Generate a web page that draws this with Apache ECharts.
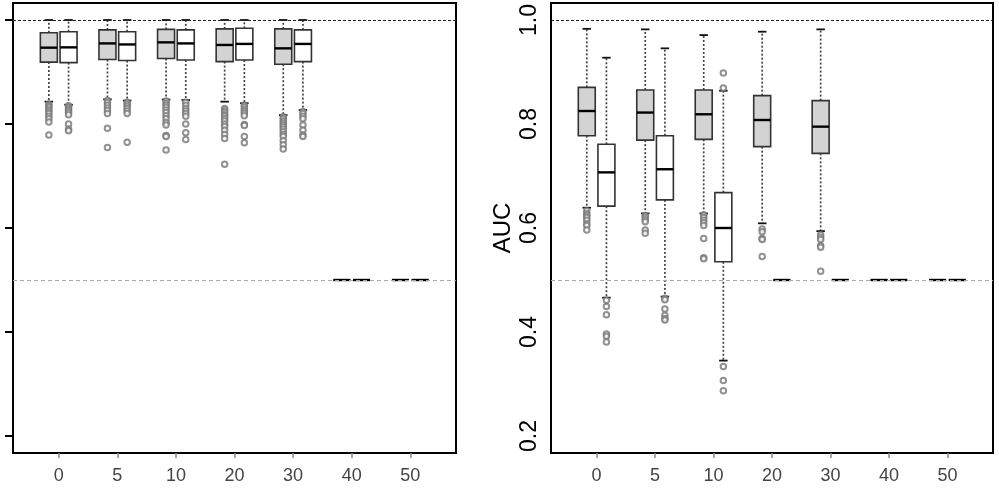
<!DOCTYPE html>
<html>
<head>
<meta charset="utf-8">
<script src="https://cdn.jsdelivr.net/npm/echarts@6/dist/echarts.min.js"></script>
<style>html,body{margin:0;padding:0;background:#fff;}#c{width:999px;height:492px;}</style>
</head>
<body>
<div id="c"></div>
<script>
// ---- data ----
const categories = ['0', '5', '10', '20', '30', '40', '50'];
const yTicks = [0.2, 0.4, 0.6, 0.8, 1.0];
const refLines = [1.0, 0.5];

// [min, Q1, median, Q3, max] per category
const leftGrayStats = [
  [0.843, 0.919, 0.9468, 0.9756, 1.0],
  [0.8475, 0.924, 0.955, 0.981, 1.0],
  [0.847, 0.926, 0.957, 0.982, 1.0],
  [0.843, 0.920, 0.952, 0.983, 1.0],
  [0.817, 0.915, 0.9455, 0.983, 1.0],
  [0.5, 0.5, 0.5, 0.5, 0.5],
  [0.5, 0.5, 0.5, 0.5, 0.5]
];
const leftWhiteStats = [
  [0.837, 0.918, 0.9474, 0.9775, 1.0],
  [0.845, 0.922, 0.953, 0.9775, 1.0],
  [0.846, 0.923, 0.955, 0.981, 1.0],
  [0.840, 0.923, 0.954, 0.984, 1.0],
  [0.827, 0.920, 0.954, 0.981, 1.0],
  [0.5, 0.5, 0.5, 0.5, 0.5],
  [0.5, 0.5, 0.5, 0.5, 0.5]
];
const leftGrayOutliers = [
  [0.838, 0.835, 0.832, 0.828, 0.824, 0.82, 0.815, 0.81, 0.804, 0.779],
  [0.845, 0.841, 0.836, 0.831, 0.826, 0.82, 0.792, 0.755],
  [0.844, 0.84, 0.836, 0.832, 0.827, 0.822, 0.816, 0.81, 0.803, 0.798, 0.778, 0.776, 0.75],
  [0.83, 0.826, 0.822, 0.818, 0.815, 0.81, 0.806, 0.80, 0.795, 0.788, 0.78, 0.772, 0.7225],
  [0.814, 0.81, 0.806, 0.802, 0.798, 0.794, 0.79, 0.785, 0.78, 0.776, 0.768, 0.76, 0.752],
  [],
  []
];
const leftWhiteOutliers = [
  [0.835, 0.832, 0.829, 0.826, 0.822, 0.818, 0.80, 0.79, 0.787],
  [0.842, 0.838, 0.834, 0.83, 0.825, 0.82, 0.765],
  [0.842, 0.836, 0.83, 0.825, 0.82, 0.815, 0.80, 0.783, 0.77],
  [0.836, 0.832, 0.828, 0.824, 0.82, 0.816, 0.799, 0.797, 0.776, 0.764],
  [0.824, 0.82, 0.815, 0.81, 0.798, 0.788, 0.779, 0.776],
  [],
  []
];

const rightGrayStats = [
  [0.639, 0.7775, 0.825, 0.8705, 0.983],
  [0.628, 0.769, 0.822, 0.8655, 0.982],
  [0.628, 0.7705, 0.8187, 0.8655, 0.971],
  [0.609, 0.7564, 0.8077, 0.8545, 0.9775],
  [0.594, 0.7436, 0.7949, 0.845, 0.982],
  [0.5, 0.5, 0.5, 0.5, 0.5],
  [0.5, 0.5, 0.5, 0.5, 0.5]
];
const rightWhiteStats = [
  [0.466, 0.642, 0.707, 0.761, 0.9275],
  [0.468, 0.654, 0.713, 0.7775, 0.9455],
  [0.345, 0.535, 0.600, 0.668, 0.864],
  [0.5, 0.5, 0.5, 0.5, 0.5],
  [0.5, 0.5, 0.5, 0.5, 0.5],
  [0.5, 0.5, 0.5, 0.5, 0.5],
  [0.5, 0.5, 0.5, 0.5, 0.5]
];
const rightGrayOutliers = [
  [0.633, 0.628, 0.624, 0.62, 0.615, 0.608, 0.605, 0.596],
  [0.624, 0.62, 0.616, 0.612, 0.596, 0.59],
  [0.625, 0.62, 0.615, 0.61, 0.605, 0.58, 0.543, 0.541],
  [0.598, 0.593, 0.58, 0.578, 0.545],
  [0.587, 0.582, 0.578, 0.566, 0.563, 0.517],
  [],
  []
];
const rightWhiteOutliers = [
  [0.461, 0.449, 0.433, 0.396, 0.392, 0.381],
  [0.465, 0.462, 0.444, 0.432, 0.426, 0.423],
  [0.898, 0.869, 0.3335, 0.3065, 0.287],
  [],
  [],
  [],
  []
];

// ---- styling constants ----
const BOX_OFF = 0.168;
const BOX_W = 0.29;
const GRAY_FILL = '#d3d3d3';
const FONT = 'Liberation Sans, Arial, sans-serif';

function boxData(stats) {
  return stats.map((s, i) => [i].concat(s));
}
function outlierData(outs, off) {
  const pts = [];
  outs.forEach((arr, i) => arr.forEach(v => pts.push([i + off, v])));
  return pts;
}
function makeRender(off, fill) {
  return function (params, api) {
    const gx = api.value(0) + off;
    const c = v => api.coord([gx, v]);
    const w = api.size([BOX_W, 0])[0];
    const hw = w / 2;
    const cx = c(api.value(3))[0];
    const yMin = c(api.value(1))[1], yQ1 = c(api.value(2))[1], yMd = c(api.value(3))[1],
          yQ3 = c(api.value(4))[1], yMax = c(api.value(5))[1];
    const dash = { stroke: '#444', lineWidth: 1.7, lineDash: [2, 2] };
    const cap = { stroke: '#111', lineWidth: 1.8 };
    return {
      type: 'group',
      children: [
        { type: 'line', shape: { x1: cx, y1: yQ3, x2: cx, y2: yMax }, style: dash },
        { type: 'line', shape: { x1: cx, y1: yQ1, x2: cx, y2: yMin }, style: dash },
        { type: 'line', shape: { x1: cx - hw / 2, y1: yMax, x2: cx + hw / 2, y2: yMax }, style: cap },
        { type: 'line', shape: { x1: cx - hw / 2, y1: yMin, x2: cx + hw / 2, y2: yMin }, style: cap },
        { type: 'rect', shape: { x: cx - hw, y: yQ3, width: w, height: yQ1 - yQ3 },
          style: { fill: fill, stroke: '#333', lineWidth: 1.6 } },
        { type: 'line', shape: { x1: cx - hw, y1: yMd, x2: cx + hw, y2: yMd },
          style: { stroke: '#000', lineWidth: 2.4 } }
      ]
    };
  };
}

const markLine = {
  silent: true,
  symbol: 'none',
  label: { show: false },
  data: [
    { yAxis: refLines[0], lineStyle: { color: '#222', type: [3, 2], width: 1.2 } },
    { yAxis: refLines[1], lineStyle: { color: '#aaa', type: [4, 3], width: 1.2 } }
  ]
};

function xAxisDef(gi) {
  return {
    type: 'value', gridIndex: gi, min: -0.78, max: 6.78,
    axisLine: { show: false, onZero: false },
    splitLine: { show: false },
    axisTick: { show: true, customValues: [0, 1, 2, 3, 4, 5, 6], length: 5, lineStyle: { color: '#888', width: 1.5 } },
    axisLabel: {
      show: true, customValues: [0, 1, 2, 3, 4, 5, 6],
      formatter: v => categories[Math.round(v)],
      fontSize: 18, color: '#444', fontFamily: FONT, margin: 14
    }
  };
}

const outStyle = { symbol: 'emptyCircle', symbolSize: 5.5, itemStyle: { color: '#777', borderWidth: 0.9 }, z: 4 };

const option = {
  animation: false,
  backgroundColor: '#fff',
  grid: [
    { left: 13, top: 3, width: 443, height: 450, show: true, borderColor: '#000', borderWidth: 2, backgroundColor: 'transparent' },
    { left: 551, top: 3, width: 442, height: 450, show: true, borderColor: '#000', borderWidth: 2, backgroundColor: 'transparent' }
  ],
  xAxis: [xAxisDef(0), xAxisDef(1)],
  yAxis: [
    {
      type: 'value', gridIndex: 0, min: 0.1673, max: 1.0327,
      axisLine: { show: false, onZero: false }, splitLine: { show: false },
      axisTick: { show: true, customValues: yTicks, length: 8, lineStyle: { color: '#000', width: 2 } },
      axisLabel: { show: false }
    },
    {
      type: 'value', gridIndex: 1, min: 0.1673, max: 1.0327,
      name: 'AUC', nameLocation: 'middle', nameRotate: 90, nameGap: 36,
      nameTextStyle: { fontSize: 24, color: '#000', fontFamily: FONT },
      axisLine: { show: false, onZero: false }, splitLine: { show: false },
      axisTick: { show: false },
      axisLabel: {
        show: true, customValues: yTicks, rotate: 90,
        formatter: v => v.toFixed(1),
        fontSize: 23, color: '#000', fontFamily: FONT, margin: 10
      }
    }
  ],
  series: [
    { type: 'custom', xAxisIndex: 0, yAxisIndex: 0, renderItem: makeRender(-BOX_OFF, GRAY_FILL),
      data: boxData(leftGrayStats), dimensions: ['x', 'min', 'q1', 'med', 'q3', 'max'],
      encode: { x: 0, y: [1, 2, 3, 4, 5] }, markLine: markLine, z: 3 },
    { type: 'custom', xAxisIndex: 0, yAxisIndex: 0, renderItem: makeRender(BOX_OFF, '#fff'),
      data: boxData(leftWhiteStats), dimensions: ['x', 'min', 'q1', 'med', 'q3', 'max'],
      encode: { x: 0, y: [1, 2, 3, 4, 5] }, z: 3 },
    { type: 'custom', xAxisIndex: 1, yAxisIndex: 1, renderItem: makeRender(-BOX_OFF, GRAY_FILL),
      data: boxData(rightGrayStats), dimensions: ['x', 'min', 'q1', 'med', 'q3', 'max'],
      encode: { x: 0, y: [1, 2, 3, 4, 5] }, markLine: markLine, z: 3 },
    { type: 'custom', xAxisIndex: 1, yAxisIndex: 1, renderItem: makeRender(BOX_OFF, '#fff'),
      data: boxData(rightWhiteStats), dimensions: ['x', 'min', 'q1', 'med', 'q3', 'max'],
      encode: { x: 0, y: [1, 2, 3, 4, 5] }, z: 3 },
    Object.assign({ type: 'scatter', xAxisIndex: 0, yAxisIndex: 0, data: outlierData(leftGrayOutliers, -BOX_OFF) }, outStyle),
    Object.assign({ type: 'scatter', xAxisIndex: 0, yAxisIndex: 0, data: outlierData(leftWhiteOutliers, BOX_OFF) }, outStyle),
    Object.assign({ type: 'scatter', xAxisIndex: 1, yAxisIndex: 1, data: outlierData(rightGrayOutliers, -BOX_OFF) }, outStyle),
    Object.assign({ type: 'scatter', xAxisIndex: 1, yAxisIndex: 1, data: outlierData(rightWhiteOutliers, BOX_OFF) }, outStyle)
  ]
};

const chart = echarts.init(document.getElementById('c'), null, { renderer: 'canvas' });
chart.setOption(option);
</script>
</body>
</html>
